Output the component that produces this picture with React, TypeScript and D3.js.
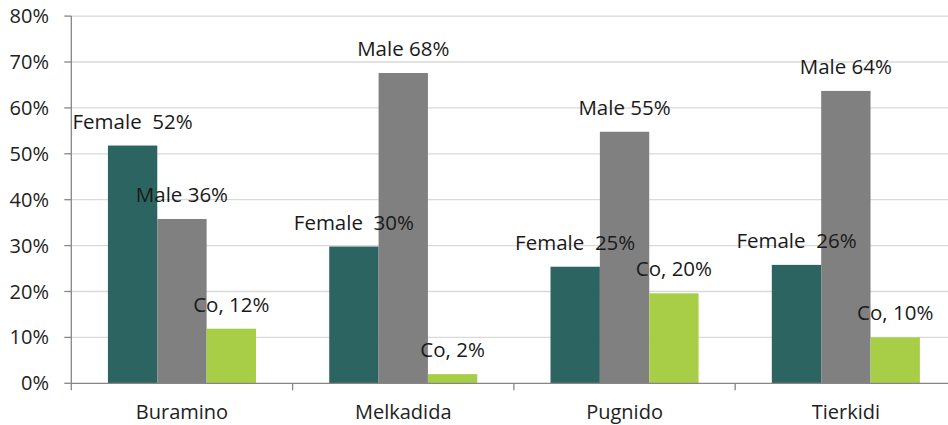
import { useEffect, useRef } from 'react';
import * as d3 from 'd3';

const camps = ['Buramino', 'Melkadida', 'Pugnido', 'Tierkidi'];
const seriesNames = ['Female', 'Male', 'Co'];
const femaleValues = [51.8, 29.8, 25.4, 25.8];
const maleValues = [35.8, 67.6, 54.8, 63.7];
const coValues = [11.9, 2, 19.6, 10];
const femaleLabels = ['Female  52%', 'Female  30%', 'Female  25%', 'Female  26%'];
const maleLabels = ['Male 36%', 'Male 68%', 'Male 55%', 'Male 64%'];
const coLabels = ['Co, 12%', 'Co, 2%', 'Co, 20%', 'Co, 10%'];
const seriesColors = ['#2C6461', '#808080', '#A8CE48'];
const yTicks = [0, 10, 20, 30, 40, 50, 60, 70, 80];

const W = 948;
const H = 425;
const FONT = '"Open Sans", "Noto Sans", sans-serif';

export default function App() {
  const svgRef = useRef<SVGSVGElement>(null);

  useEffect(() => {
    if (!svgRef.current) return;
    const svg = d3.select(svgRef.current);
    svg.selectAll('*').remove();

    const left = 71.3;
    const step = 221.3;
    const x0 = d3.scaleBand<string>()
      .domain(camps)
      .range([left, left + step * camps.length])
      .paddingInner(0.331)
      .paddingOuter(0.1655);
    const x1 = d3.scaleBand<string>()
      .domain(seriesNames)
      .range([0, x0.bandwidth()]);
    const y = d3.scaleLinear().domain([0, 80]).range([383.3, 16.1]);

    // gridlines
    svg.append('g')
      .selectAll('line')
      .data(yTicks.filter(t => t > 0))
      .join('line')
      .attr('x1', left)
      .attr('x2', W)
      .attr('y1', d => y(d))
      .attr('y2', d => y(d))
      .attr('stroke', '#D9D9D9')
      .attr('stroke-width', 1.3);

    // y axis
    const yAxis = svg.append('g');
    yAxis.append('line')
      .attr('x1', left).attr('x2', left)
      .attr('y1', y(80)).attr('y2', y(0))
      .attr('stroke', '#868686').attr('stroke-width', 1.3);
    yAxis.selectAll('.tick')
      .data(yTicks)
      .join('line')
      .attr('x1', left - 7).attr('x2', left)
      .attr('y1', d => y(d)).attr('y2', d => y(d))
      .attr('stroke', '#868686').attr('stroke-width', 1.3);
    yAxis.selectAll('text')
      .data(yTicks)
      .join('text')
      .attr('x', 49)
      .attr('y', d => y(d) + 7)
      .attr('text-anchor', 'end')
      .attr('font-family', FONT)
      .attr('font-size', 20)
      .attr('fill', '#222')
      .text(d => `${d}%`);

    const seriesValues = [femaleValues, maleValues, coValues];
    const seriesLabels = [femaleLabels, maleLabels, coLabels];

    // bars first
    const barsG = svg.append('g');
    seriesNames.forEach((name, si) => {
      barsG.append('g')
        .selectAll('rect')
        .data(camps)
        .join('rect')
        .attr('x', (c) => (x0(c) ?? 0) + (x1(name) ?? 0))
        .attr('y', (_, i) => y(seriesValues[si][i]))
        .attr('width', x1.bandwidth())
        .attr('height', (_, i) => y(0) - y(seriesValues[si][i]))
        .attr('fill', seriesColors[si]);
    });

    // x axis
    const xAxis = svg.append('g');
    xAxis.append('line')
      .attr('x1', left).attr('x2', W)
      .attr('y1', y(0)).attr('y2', y(0))
      .attr('stroke', '#868686').attr('stroke-width', 1.3);
    xAxis.selectAll('.tick')
      .data(d3.range(camps.length + 1))
      .join('line')
      .attr('x1', i => left + step * i)
      .attr('x2', i => left + step * i)
      .attr('y1', y(0)).attr('y2', y(0) + 7)
      .attr('stroke', '#868686').attr('stroke-width', 1.3);
    xAxis.selectAll('text')
      .data(camps)
      .join('text')
      .attr('x', c => (x0(c) ?? 0) + x0.bandwidth() / 2)
      .attr('y', 419)
      .attr('text-anchor', 'middle')
      .attr('font-family', FONT)
      .attr('font-size', 20)
      .attr('fill', '#222')
      .text(c => c);

    // data labels on top of everything
    const labelsG = svg.append('g');
    seriesNames.forEach((name, si) => {
      labelsG.append('g')
        .selectAll('text')
        .data(camps)
        .join('text')
        .attr('x', (c) => (x0(c) ?? 0) + (x1(name) ?? 0) + x1.bandwidth() / 2)
        .attr('y', (_, i) => y(seriesValues[si][i]) - 17)
        .attr('text-anchor', 'middle')
        .attr('font-family', FONT)
        .attr('font-size', 20.5)
        .attr('fill', '#1a1a1a')
        .style('white-space', 'pre')
        .text((_, i) => seriesLabels[si][i]);
    });
  }, []);

  return (
    <svg
      ref={svgRef}
      width={W}
      height={H}
      style={{ position: 'absolute', top: 0, left: 0, background: '#fff' }}
    />
  );
}
